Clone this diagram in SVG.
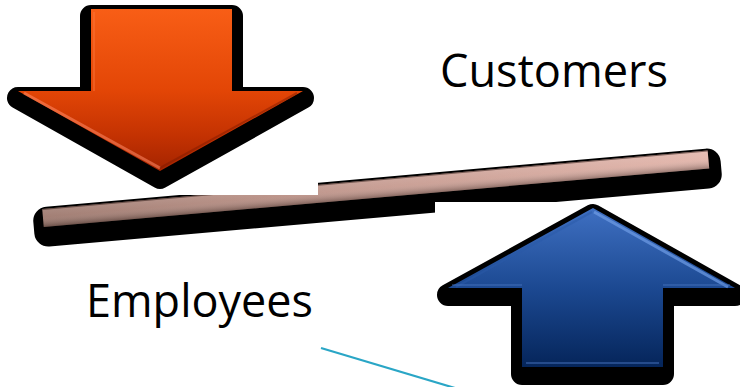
<svg xmlns="http://www.w3.org/2000/svg" width="740" height="387" viewBox="0 0 740 387">
  <defs>
    <linearGradient id="gOrange" x1="0" y1="9" x2="0" y2="171" gradientUnits="userSpaceOnUse">
      <stop offset="0" stop-color="#f85e16"/>
      <stop offset="0.5" stop-color="#e34606"/>
      <stop offset="0.78" stop-color="#c43202"/>
      <stop offset="1" stop-color="#a42400"/>
    </linearGradient>
    <linearGradient id="gBlue" x1="0" y1="208" x2="0" y2="367" gradientUnits="userSpaceOnUse">
      <stop offset="0" stop-color="#3f70c2"/>
      <stop offset="0.5" stop-color="#1c4992"/>
      <stop offset="1" stop-color="#05255a"/>
    </linearGradient>
    <linearGradient id="gBarH" x1="0" y1="0" x2="668" y2="0" gradientUnits="userSpaceOnUse">
      <stop offset="0" stop-color="#9a7469"/>
      <stop offset="0.5" stop-color="#c3968b"/>
      <stop offset="1" stop-color="#e2b3a8"/>
    </linearGradient>
    <linearGradient id="gBarV" x1="0" y1="-9" x2="0" y2="9" gradientUnits="userSpaceOnUse">
      <stop offset="0" stop-color="#ffffff" stop-opacity="0.15"/>
      <stop offset="0.45" stop-color="#ffffff" stop-opacity="0.08"/>
      <stop offset="1" stop-color="#000000" stop-opacity="0.3"/>
    </linearGradient>
    <style>
      .shadow { fill: #000; stroke: #000; stroke-width: 22; stroke-linejoin: round; }
      .label { font-family: "Open Sans", "DejaVu Sans", sans-serif; font-size: 45px; fill: #000; }
      .cover { fill: #fff; }
    </style>
  </defs>

  <rect width="740" height="387" fill="#fff"/>

  <g id="bar">
    <g transform="translate(43,218) rotate(-5.03)">
      <rect x="-10" y="-11" width="690" height="40" rx="14" fill="#000"/>
      <rect x="0" y="-9" width="668" height="18" fill="url(#gBarH)"/>
      <rect x="0" y="-9" width="668" height="18" fill="url(#gBarV)"/>
      <line x1="0" y1="-8.5" x2="668" y2="-8.5" stroke="#3a2520" stroke-width="1" opacity="0.6"/>
    </g>
  </g>

  <rect class="cover" x="0" y="140" width="318" height="55"/>
  <rect class="cover" x="435" y="202" width="305" height="185"/>

  <g id="arrow-down">
    <path class="shadow" transform="translate(0,7)" d="M91,9 L232,9 L232,91 L303,91 L160,171 L18,91 L91,91 Z"/>
    <path fill="url(#gOrange)" d="M91,9 L232,9 L232,91 L303,91 L160,171 L18,91 L91,91 Z"/>
    <path d="M24,93 L160,168" fill="none" stroke="#ff8a66" stroke-width="3" opacity="0.55"/>
    <path d="M94,12 L94,91" fill="none" stroke="#ff7a40" stroke-width="2" opacity="0.4"/>
    <path d="M297,93 L160,168" fill="none" stroke="#7a1800" stroke-width="2" opacity="0.45"/>
  </g>

  <g id="arrow-up">
    <path class="shadow" transform="translate(0,7)" d="M593,208 L735,288 L663,288 L663,367 L522,367 L522,288 L448,288 Z"/>
    <path fill="url(#gBlue)" d="M593,208 L735,288 L663,288 L663,367 L522,367 L522,288 L448,288 Z"/>
    <path d="M594,212 L728,287" fill="none" stroke="#6f9ce6" stroke-width="3" opacity="0.7"/>
    <path d="M592,212 L456,287" fill="none" stroke="#2a5aa8" stroke-width="2" opacity="0.5"/>
    <path d="M526,363 L659,363" fill="none" stroke="#3a64aa" stroke-width="2" opacity="0.6"/>
    <path d="M452,285 L522,285 M663,285 L730,285" fill="none" stroke="#4a78c4" stroke-width="2" opacity="0.4"/>
  </g>

  <g id="label-customers">
    <text class="label" x="440" y="87" textLength="228" lengthAdjust="spacingAndGlyphs">Customers</text>
  </g>
  <g id="label-employees">
    <text class="label" x="86" y="317" textLength="227" lengthAdjust="spacingAndGlyphs">Employees</text>
  </g>

  <g id="connectors">
    <line x1="321" y1="348" x2="455" y2="388" stroke="#2aa6c6" stroke-width="2.2"/>
  </g>
</svg>
